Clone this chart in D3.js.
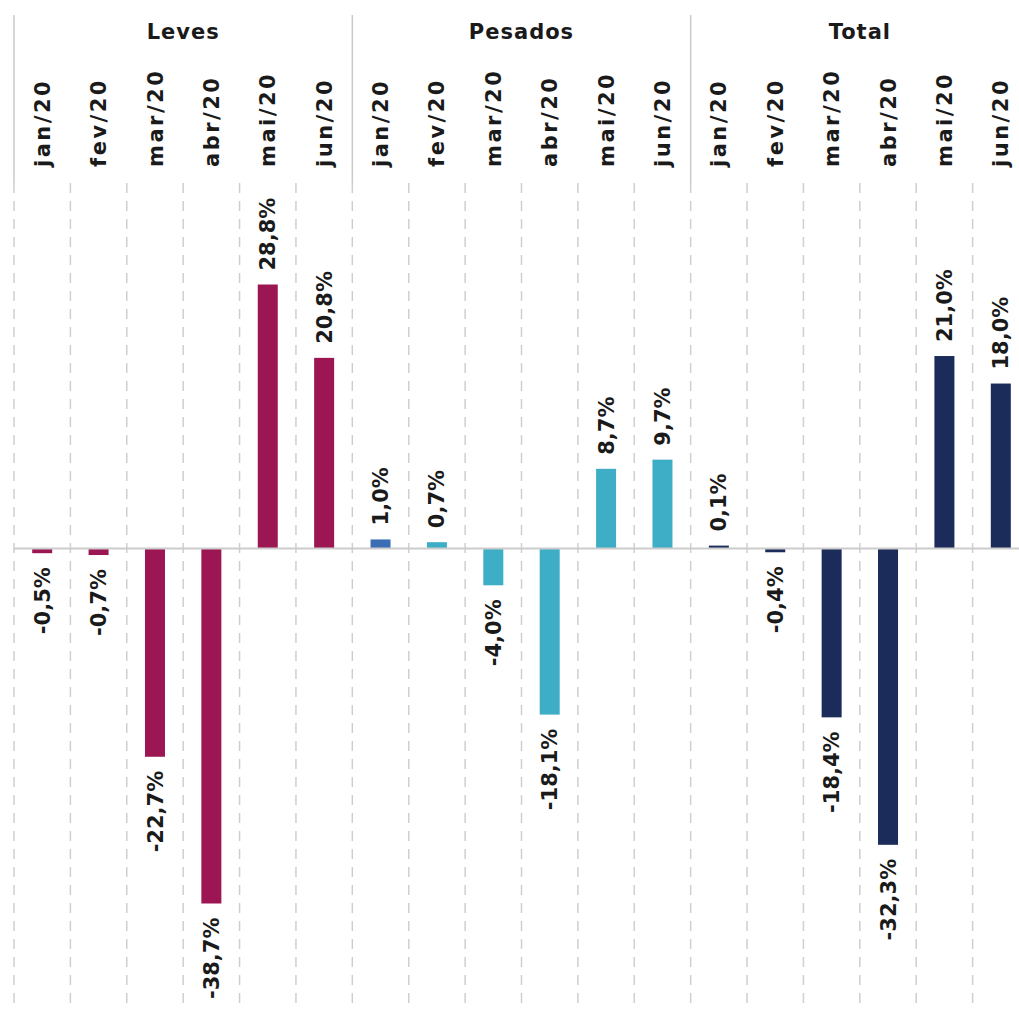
<!DOCTYPE html>
<html>
<head>
<meta charset="utf-8">
<script src="https://cdn.jsdelivr.net/npm/d3@7"></script>
<style>
  html, body { margin: 0; padding: 0; background: #fff; }
  svg { display: block; }
  text { font-family: "DejaVu Sans", sans-serif; font-weight: bold; fill: #1a1a1a; }
</style>
</head>
<body>
<div id="chart"></div>
<script>
// Monthly change (%) by vehicle class, jan/20 - jun/20
const groups = ["Leves", "Pesados", "Total"];
const months = ["jan/20", "fev/20", "mar/20", "abr/20", "mai/20", "jun/20"];
const leves = [-0.5, -0.7, -22.7, -38.7, 28.8, 20.8];
const pesados = [1.0, 0.7, -4.0, -18.1, 8.7, 9.7];
const total = [0.1, -0.4, -18.4, -32.3, 21.0, 18.0];

const groupColors = ["#9c1654", "#3eadc6", "#1b2c5a"];
const pesadosJanColor = "#3b6db5";

const WIDTH = 1019, HEIGHT = 1015;
const X0 = 14, X1 = 1029;        // last group runs past the right edge
const HEAD_TOP = 15, HEAD_BOTTOM = 183, PLOT_BOTTOM = 1003;

const seriesByGroup = [leves, pesados, total];

// flatten into rows for drawing
const rows = [];
groups.forEach((g, gi) => {
  months.forEach((m, mi) => {
    rows.push({
      key: g + "|" + m,
      group: g, gi: gi, month: m, mi: mi,
      value: seriesByGroup[gi][mi],
      color: (gi === 1 && mi === 0) ? pesadosJanColor : groupColors[gi]
    });
  });
});

const svg = d3.select("#chart").append("svg")
  .attr("width", WIDTH)
  .attr("height", HEIGHT);

const x = d3.scaleBand()
  .domain(rows.map(d => d.key))
  .range([X0, X1]);

const y = d3.scaleLinear()
  .domain([-38.7, 28.8])
  .range([903.5, 284.5]);

const bw = x.bandwidth();
const barW = 20;
const minH = 3; // keep tiny bars visible

// solid group separators in header
const groupEdges = d3.range(groups.length + 1).map(i => X0 + i * months.length * bw);
svg.append("g").selectAll("line")
  .data(groupEdges)
  .join("line")
    .attr("x1", d => d).attr("x2", d => d)
    .attr("y1", HEAD_TOP).attr("y2", HEAD_BOTTOM)
    .attr("stroke", "#c9c9c9")
    .attr("stroke-width", 1.5);

// dashed column separators in plot area
const colEdges = d3.range(rows.length + 1).map(i => X0 + i * bw);
svg.append("g").selectAll("line")
  .data(colEdges)
  .join("line")
    .attr("x1", d => d).attr("x2", d => d)
    .attr("y1", HEAD_BOTTOM).attr("y2", PLOT_BOTTOM)
    .attr("stroke", "#cfcfcf")
    .attr("stroke-width", 1.5)
    .attr("stroke-dasharray", "10,8");

// group titles
svg.append("g").selectAll("text")
  .data(groups)
  .join("text")
    .attr("x", (d, i) => X0 + (i + 0.5) * months.length * bw)
    .attr("y", 39)
    .attr("text-anchor", "middle")
    .attr("font-size", 21)
    .attr("letter-spacing", 1)
    .text(d => d);

// month labels (rotated)
svg.append("g").selectAll("text")
  .data(rows)
  .join("text")
    .attr("transform", d => `translate(${x(d.key) + bw / 2},167) rotate(-90)`)
    .attr("dy", "0.36em")
    .attr("text-anchor", "start")
    .attr("font-size", 21)
    .attr("letter-spacing", 2.5)
    .text(d => d.month);

// bars
const barH = d => Math.max(minH, Math.abs(y(d.value) - y(0)));
svg.append("g").selectAll("rect")
  .data(rows)
  .join("rect")
    .attr("x", d => x(d.key) + bw / 2 - barW / 2)
    .attr("width", barW)
    .attr("y", d => d.value >= 0 ? y(0) - barH(d) : y(0))
    .attr("height", d => barH(d))
    .attr("fill", d => d.color);

// zero line
svg.append("line")
  .attr("x1", X0).attr("x2", WIDTH)
  .attr("y1", y(0)).attr("y2", y(0))
  .attr("stroke", "#cccccc")
  .attr("stroke-width", 2);

// value labels
const fmt = v => v.toFixed(1).replace(".", ",") + "%";
svg.append("g").selectAll("text")
  .data(rows)
  .join("text")
    .attr("transform", d => {
      const yy = d.value >= 0 ? y(0) - barH(d) - 14 : y(0) + barH(d) + 14;
      return `translate(${x(d.key) + bw / 2},${yy}) rotate(-90)`;
    })
    .attr("dy", "0.36em")
    .attr("text-anchor", d => d.value >= 0 ? "start" : "end")
    .attr("font-size", 21)
    .text(d => fmt(d.value));
</script>
</body>
</html>
